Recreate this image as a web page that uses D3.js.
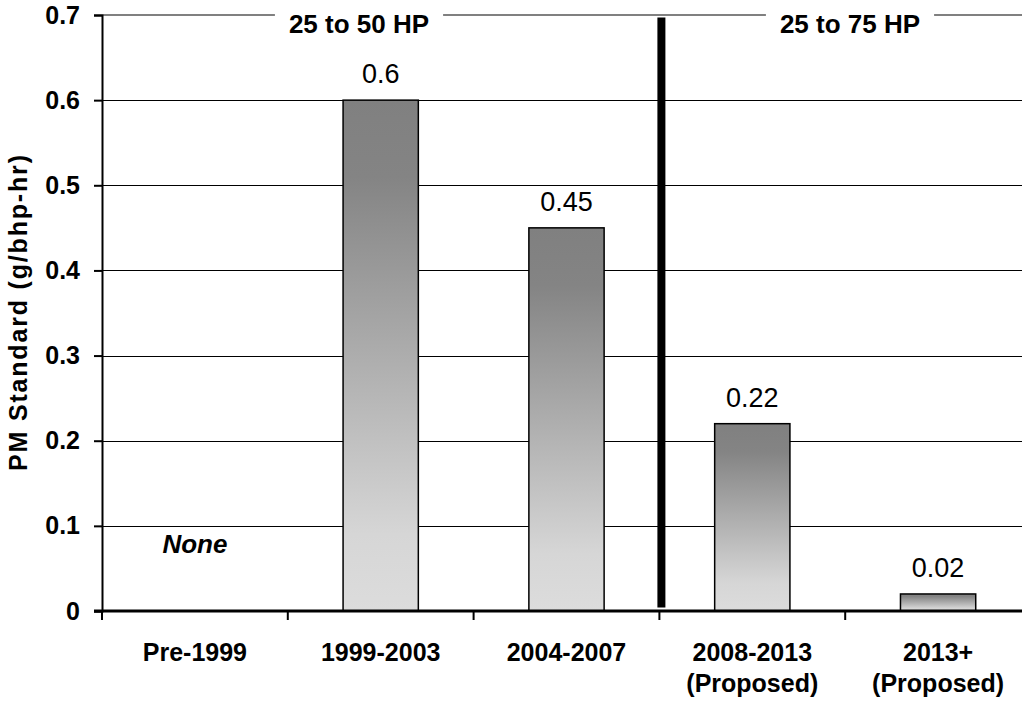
<!DOCTYPE html>
<html>
<head>
<meta charset="utf-8">
<script src="https://cdn.jsdelivr.net/npm/d3@7"></script>
<style>
  html, body { margin: 0; padding: 0; background: #fff; }
  svg { display: block; font-family: "Liberation Sans", Arial, sans-serif; }
</style>
</head>
<body>
<svg id="chart" width="1022" height="704"></svg>
<script>
// PM emission standards for small off-road diesel engines
const categories = ["Pre-1999", "1999-2003", "2004-2007", "2008-2013", "2013+"];
const subLabels  = ["", "", "", "(Proposed)", "(Proposed)"];
const pmValues   = [null, 0.6, 0.45, 0.22, 0.02];
const valueText  = ["None", "0.6", "0.45", "0.22", "0.02"];
const yTicks     = [0, 0.1, 0.2, 0.3, 0.4, 0.5, 0.6, 0.7];
const hpGroups   = ["25 to 50 HP", "25 to 75 HP"];
const groupSpans = [["Pre-1999", "2004-2007"], ["2008-2013", "2013+"]];

const svg = d3.select("#chart");
const plotLeft = 102, plotRight = 1031, plotTop = 15, plotBottom = 611;

const x = d3.scaleBand().domain(categories).range([plotLeft, plotRight]).paddingInner(0).paddingOuter(0);
const y = d3.scaleLinear().domain([0, 0.7]).range([plotBottom, plotTop]);
const barW = x.bandwidth() * 0.405;

// bar gradient: dark grey at the top fading to light grey
const defs = svg.append("defs");
const grad = defs.append("linearGradient").attr("id", "barGrad")
  .attr("x1", 0).attr("y1", 0).attr("x2", 0).attr("y2", 1);
grad.append("stop").attr("offset", 0).attr("stop-color", "#808080");
grad.append("stop").attr("offset", 0.15).attr("stop-color", "#848484");
grad.append("stop").attr("offset", 0.85).attr("stop-color", "#d6d6d6");
grad.append("stop").attr("offset", 1).attr("stop-color", "#dcdcdc");

// horizontal gridlines
svg.append("g").selectAll("line")
  .data(yTicks.filter(t => t > 0 && t < 0.7))
  .join("line")
  .attr("x1", plotLeft).attr("x2", 1022)
  .attr("y1", d => Math.round(y(d)) + 0.5).attr("y2", d => Math.round(y(d)) + 0.5)
  .attr("stroke", "#000").attr("stroke-width", 1);

// top border of the plot (grey)
svg.append("line")
  .attr("x1", plotLeft).attr("x2", 1022)
  .attr("y1", y(0.7)).attr("y2", y(0.7))
  .attr("stroke", "#808080").attr("stroke-width", 2);

// bars
const barData = categories.map((c, i) => ({ c, v: pmValues[i], t: valueText[i] }));
svg.append("g").selectAll("rect")
  .data(barData.filter(d => d.v != null))
  .join("rect")
  .attr("x", d => x(d.c) + x.bandwidth() / 2 - barW / 2)
  .attr("y", d => y(d.v))
  .attr("width", barW)
  .attr("height", d => y(0) - y(d.v))
  .attr("fill", "url(#barGrad)")
  .attr("stroke", "#000").attr("stroke-width", 1.5);

// value labels
svg.append("g").selectAll("text")
  .data(barData.filter(d => d.v != null))
  .join("text")
  .attr("x", d => x(d.c) + x.bandwidth() / 2)
  .attr("y", d => y(d.v) - 17)
  .attr("text-anchor", "middle")
  .attr("font-size", 27)
  .attr("fill", "#000")
  .text(d => d.t);

// "None" note for the category without a standard
svg.append("g").selectAll("text")
  .data(barData.filter(d => d.v == null))
  .join("text")
  .attr("x", d => x(d.c) + x.bandwidth() / 2)
  .attr("y", y(0) - 58)
  .attr("text-anchor", "middle")
  .attr("font-size", 26).attr("font-weight", "bold").attr("font-style", "italic")
  .text(d => d.t);

// y axis
const yAxis = svg.append("g").attr("transform", `translate(${plotLeft},0)`)
  .call(d3.axisLeft(y).tickValues(yTicks).tickSize(8).tickPadding(14)
    .tickFormat(d => d === 0 ? "0" : d3.format(".1f")(d)));
yAxis.select(".domain").attr("stroke", "#000").attr("stroke-width", 2);
yAxis.selectAll(".tick line").attr("stroke", "#000").attr("stroke-width", 2);
yAxis.selectAll(".tick text")
  .attr("font-family", "Liberation Sans, Arial, sans-serif")
  .attr("font-size", 25).attr("font-weight", "bold").attr("fill", "#000");

// x axis (zero line) with ticks at category boundaries
const xAxis = svg.append("g").attr("transform", `translate(0,${plotBottom})`);
xAxis.append("line").attr("x1", plotLeft - 8).attr("x2", 1022)
  .attr("stroke", "#000").attr("stroke-width", 3);
xAxis.selectAll("line.tick")
  .data(categories)
  .join("line").attr("class", "tick")
  .attr("x1", d => x(d)).attr("x2", d => x(d))
  .attr("y1", 0).attr("y2", 9)
  .attr("stroke", "#000").attr("stroke-width", 2);

// category labels
const catG = svg.append("g");
categories.forEach((c, i) => {
  const t = catG.append("text")
    .attr("x", x(c) + x.bandwidth() / 2)
    .attr("y", 661)
    .attr("text-anchor", "middle")
    .attr("font-size", 25).attr("font-weight", "bold");
  t.append("tspan").attr("x", x(c) + x.bandwidth() / 2).text(c);
  if (subLabels[i]) t.append("tspan").attr("x", x(c) + x.bandwidth() / 2).attr("dy", 31).text(subLabels[i]);
});

// y-axis title
svg.append("text")
  .attr("transform", `translate(27,${(plotTop + plotBottom) / 2}) rotate(-90)`)
  .attr("text-anchor", "middle")
  .attr("font-size", 25).attr("font-weight", "bold")
  .attr("textLength", 316).attr("lengthAdjust", "spacing")
  .text("PM Standard (g/bhp-hr)");

// separator between the two horsepower ranges
const sepX = x(groupSpans[1][0]) + 2;
svg.append("line")
  .attr("x1", sepX).attr("x2", sepX)
  .attr("y1", y(0.697)).attr("y2", y(0.004))
  .attr("stroke", "#000").attr("stroke-width", 8);

// horsepower range labels on the top border
const groupCenters = [359, 850];
hpGroups.forEach((g, i) => {
  const lbl = svg.append("text")
    .attr("x", groupCenters[i]).attr("y", 33)
    .attr("text-anchor", "middle")
    .attr("font-size", 26).attr("font-weight", "bold")
    .text(g);
  const bb = lbl.node().getBBox();
  svg.insert("rect", function () { return lbl.node(); })
    .attr("x", bb.x - 14).attr("y", plotTop - 3)
    .attr("width", bb.width + 28).attr("height", 6)
    .attr("fill", "#fff");
});
</script>
</body>
</html>
